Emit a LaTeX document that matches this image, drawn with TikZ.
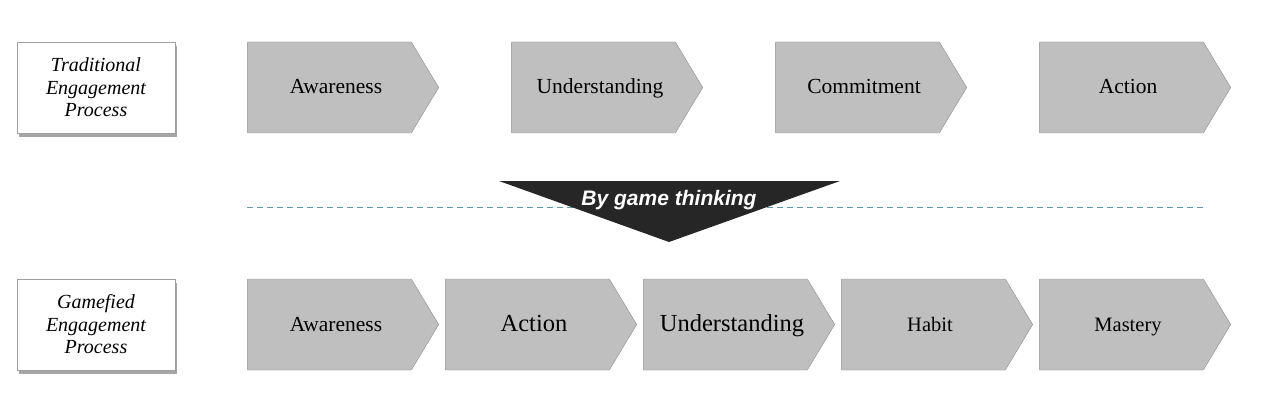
\documentclass[tikz,border=0pt]{standalone}
\usepackage{fontspec}
\setmainfont{Liberation Serif}
\newfontfamily\thinkfont{Liberation Sans}
\usetikzlibrary{shapes.symbols}
\usetikzlibrary{shadows}
\definecolor{stagefill}{HTML}{BFBFBF}
\definecolor{stageline}{HTML}{8C8C8C}
\definecolor{dashline}{HTML}{5F97B0}
\definecolor{thinkfill}{HTML}{262626}
\begin{document}
\begin{tikzpicture}[x=1pt,y=-1pt,
  stage/.style={signal,signal to=east,signal pointer angle=118,draw=stageline,fill=stagefill,
    minimum width=191pt,minimum height=91pt,inner sep=0pt,text height=1.3em,text depth=0em,
    execute at begin node={\hspace*{13pt}}},
  process/.style={draw=gray!75,fill=white,minimum width=158pt,minimum height=91pt,inner sep=0pt,
    align=center,font=\itshape\fontsize{20}{22.5}\selectfont,
    drop shadow={shadow xshift=2pt,shadow yshift=-4pt,opacity=0.7,fill=gray}}]
\useasboundingbox (0,0) rectangle (1272,409);
% row labels
\node[process] (trad) at (96,87.5) {Traditional\\Engagement\\Process};
\node[process] (game) at (96,324.5) {Gamefied\\Engagement\\Process};
% traditional steps
\node[stage,font=\fontsize{21.5}{24}\selectfont] (tAware) at (329.5,87.5) {Awareness};
\node[stage,font=\fontsize{21.5}{24}\selectfont] (tUnder) at (593.5,87.5) {Understanding};
\node[stage,font=\fontsize{21.5}{24}\selectfont] (tCommit) at (857.5,87.5) {Commitment};
\node[stage,font=\fontsize{21.5}{24}\selectfont] (tAction) at (1121.5,87.5) {Action};
% gamefied steps
\node[stage,font=\fontsize{21.5}{24}\selectfont] (gAware) at (329.5,324.5) {Awareness};
\node[stage,font=\fontsize{24.5}{27}\selectfont] (gAction) at (527.5,324.5) {Action};
\node[stage,font=\fontsize{24.5}{27}\selectfont] (gUnder) at (725.5,324.5) {Understanding};
\node[stage,font=\fontsize{20.5}{24}\selectfont] (gHabit) at (923.5,324.5) {Habit};
\node[stage,font=\fontsize{20.5}{24}\selectfont] (gMastery) at (1121.5,324.5) {Mastery};
% change of process
\coordinate (sepL) at (247,207);
\coordinate (sepR) at (1205,207);
\draw[dashline,dash pattern=on 6pt off 4pt,line width=1pt] (sepL) -- (sepR);
\coordinate (triL) at (499,181);
\coordinate (triR) at (840,181);
\coordinate (triB) at (669,242);
\fill[thinkfill] (triL) -- (triR) -- (triB) -- cycle;
\node[text=white,font=\thinkfont\bfseries\itshape\fontsize{21}{24}\selectfont] (think) at (669,200.5) {By game thinking};
\end{tikzpicture}
\end{document}
